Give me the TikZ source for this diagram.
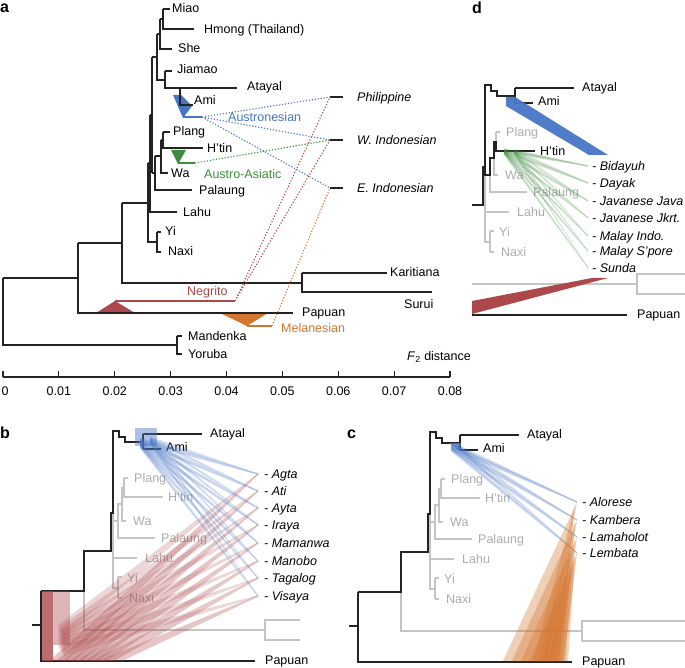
\documentclass[tikz,border=0pt]{standalone}
\usepackage{fontspec}
\setmainfont{Liberation Sans}
\definecolor{lineC}{RGB}{35,35,35}
\definecolor{grayC}{RGB}{196,196,196}
\definecolor{grayT}{RGB}{172,172,172}
\definecolor{blueC}{RGB}{72,118,196}
\definecolor{greenC}{RGB}{62,140,62}
\definecolor{redC}{RGB}{172,72,74}
\definecolor{orangeC}{RGB}{212,118,48}
\newcommand\labfont{\fontsize{12.5}{14}\selectfont}
\tikzset{
  tl/.style={draw=lineC, line width=1.1pt},
  gl/.style={draw=grayC, line width=1.1pt},
  lab/.style={anchor=west, inner sep=0pt, text height=8.9pt, text depth=0pt, font=\labfont},
  glab/.style={lab, text=grayT},
  ilab/.style={lab, font=\labfont\itshape},
  dotl/.style={line width=1.1pt, dash pattern=on 1.2pt off 1.8pt},
  plab/.style={anchor=base west, inner sep=0pt, font=\fontsize{16}{17}\selectfont\bfseries},
  ticklab/.style={anchor=center, inner sep=0pt, text height=8.9pt, text depth=0pt, font=\labfont},
}
% pruned tree: #1 H'tin path style, #2 H'tin label style, #3 stub end x, #4 name prefix
\newcommand\ptree[4]{%
  \draw[gl] (121,245)--(121,284)--(302,284);
  \draw[gl] (#3,274)--(302,274)--(302,294)--(#3,294);
  \draw[gl] (150,167)--(150,242)--(155,242) (155,231)--(155,252) (155,231)--(159,231) (155,252)--(159,252);
  \draw[gl] (150,212)--(174,212);
  \draw[gl] (150,175)--(155,175) (155,158)--(155,192)--(192,192) (155,158)--(159,158)
            (159,142)--(159,175)--(163,175) (159,142)--(161,142) (161,132)--(161,151) (161,132)--(165,132);
  \draw[#1] (150,167)--(150,175)--(155,175)--(155,158)--(159,158)--(159,142)--(161,142)--(161,151)--(200,151);
  \draw[tl] (69,279)--(78,279) (78,245)--(78,315)--(292,315);
  \draw[tl] (78,245)--(121,245)--(121,205)--(148,205)--(148,167)--(150,167)--(150,85)--(156,85)--(156,91)--(162,91)--(162,96)--(180,96)
            (180,88)--(180,103) (180,88)--(239,88) (180,103)--(198,103);
  \node[lab] (#4atayal) at (247,87) {Atayal};
  \node[lab] (#4ami) at (203,101) {Ami};
  \node[glab] (#4plang) at (171,132) {Plang};
  \node[#2] (#4htin) at (205,151) {H’tin};
  \node[glab] (#4wa) at (170,175) {Wa};
  \node[glab] (#4palaung) at (198,192) {Palaung};
  \node[glab] (#4lahu) at (182,212) {Lahu};
  \node[glab] (#4yi) at (164,232) {Yi};
  \node[glab] (#4naxi) at (166,252) {Naxi};
  \node[lab] (#4papuan) at (302,314) {Papuan};
}
\begin{document}
\begin{tikzpicture}[x=1pt,y=-1pt]
\useasboundingbox (0,0) rectangle (685,668);
\fill[white] (0,0) rectangle (685,668);

% ================= panel a =================
\node[plab] (pa) at (0,13) {a};
\fill[blueC] (173,95) -- (181,95) -- (192,106) -- (183,118) -- cycle;
\fill[greenC] (171,150) -- (186,150) -- (178,164) -- cycle;
\fill[redC] (96,313) -- (115,301) -- (135,313) -- cycle;
\fill[orangeC] (220,313) -- (268,313) -- (247,326) -- cycle;

\draw[tl] (163,9)--(170,9) (163,9)--(163,29)--(194,29);
\draw[tl] (160,19)--(163,19) (160,19)--(160,49)--(172,49);
\draw[tl] (165,71)--(172,71) (165,71)--(165,88)--(237,88) (180,88)--(180,105)--(193,105);
\draw[tl] (157,34)--(160,34) (157,34)--(157,80)--(165,80);
\draw[tl] (152,57)--(157,57);
\draw[tl] (163,132)--(170,132) (163,132)--(163,148)--(203,148);
\draw[tl] (161,140)--(163,140) (161,140)--(161,173)--(168,173);
\draw[tl] (155,156)--(161,156) (155,156)--(155,190)--(192,190);
\draw[tl] (152,173)--(155,173) (152,57)--(152,173);
\draw[tl] (150,115)--(152,115) (150,115)--(150,212)--(177,212);
\draw[tl] (148,163)--(150,163) (148,163)--(148,242)--(157,242);
\draw[tl] (157,232)--(161,232) (157,232)--(157,252)--(161,252);
\draw[tl] (122,203)--(148,203) (122,203)--(122,283)--(302,283);
\draw[tl] (302,273)--(387,273) (302,273)--(302,292)--(432,292);
\draw[tl] (78,243)--(122,243) (78,243)--(78,313)--(293,313);
\draw[tl] (3,278)--(78,278) (3,278)--(3,345)--(177,345);
\draw[tl] (177,336)--(182,336) (177,336)--(177,354)--(182,354);

\node[lab] (miao) at (172,8) {Miao};
\node[lab] (hmong) at (204,29) {Hmong (Thailand)};
\node[lab] (she) at (178,48) {She};
\node[lab] (jiamao) at (177,69) {Jiamao};
\node[lab] (atayalA) at (247,86) {Atayal};
\node[lab] (amiA) at (194,100) {Ami};
\node[lab] (plangA) at (173,131) {Plang};
\node[lab] (htinA) at (207,148) {H’tin};
\node[lab] (waA) at (171,173) {Wa};
\node[lab] (palaungA) at (199,190) {Palaung};
\node[lab] (lahuA) at (183,212) {Lahu};
\node[lab] (yiA) at (165,231) {Yi};
\node[lab] (naxiA) at (168,251) {Naxi};
\node[lab] (karitiana) at (390,272) {Karitiana};
\node[lab] (surui) at (404,304) {Surui};
\node[lab] (papuanA) at (302,312) {Papuan};
\node[lab] (mandenka) at (188,336) {Mandenka};
\node[lab] (yoruba) at (188,354) {Yoruba};

% admixture sources
\draw[blueC, line width=1.1pt] (183,117) -- (202,117);
\draw[greenC, line width=1.1pt] (178,163) -- (195,163);
\draw[redC, line width=1.1pt] (115,301) -- (235,301);
\draw[orangeC, line width=1.1pt] (247,326) -- (272,326);

\coordinate (bsrc) at (202,117);
\coordinate (gsrc) at (195,163);
\coordinate (rsrc) at (235,301);
\coordinate (osrc) at (272,326);
\coordinate (tphil) at (330,97);
\coordinate (twin) at (330,140);
\coordinate (tein) at (330,188);
\draw[tl] (tphil)--(343,97) (twin)--(343,140) (tein)--(343,188);
\node[ilab] (phil) at (357,97) {Philippine};
\node[ilab] (windo) at (357,140) {W. Indonesian};
\node[ilab] (eindo) at (357,188) {E. Indonesian};

\draw[dotl, blueC] (bsrc) -- (tphil) (bsrc) -- (twin) (bsrc) -- (tein);
\draw[dotl, greenC] (gsrc) -- (twin);
\draw[dotl, redC] (rsrc) -- (tphil) (rsrc) -- (twin);
\draw[dotl, orangeC] (osrc) -- (tein);

\node[lab, text=blueC] (austro) at (228,117) {Austronesian};
\node[lab, text=greenC] (aa) at (204,174) {Austro-Asiatic};
\node[lab, text=redC] (negrito) at (187,291) {Negrito};
\node[lab, text=orangeC] (melan) at (281,328) {Melanesian};

% axis
\draw[tl] (3,377) -- (450,377);
\foreach \k/\t in {0/0,1/0.01,2/0.02,3/0.03,4/0.04,5/0.05,6/0.06,7/0.07,8/0.08}{
  \draw[tl] ({3+55.875*\k},371) -- ({3+55.875*\k},377);
  \node[ticklab] (tick\k) at ({3+55.875*\k+(\k==0?2:0)},391) {\t};
}
\node[lab] (f2) at (407,356) {\textit{F}\textsubscript{2} distance};

% ================= panel b =================
\node[plab] (pb) at (0,438) {b};
\begin{scope}[shift={(-37,346)}]
  \ptree{gl}{glab}{337}{b}
\end{scope}
\foreach \t/\ty [count=\i] in {Agta/474,Ati/491,Ayta/508,Iraya/525,Mamanwa/543,Manobo/561,Tagalog/578,Visaya/596}{
  \node[ilab] (bl\i) at (264,\ty) {- \t};
}
\fill[redC, fill opacity=.8] (41.5,591) rectangle (53,661);
\fill[redC, fill opacity=.4] (53,591) rectangle (70,645);
\foreach \ty [count=\i] in {474,491,508,525,543,561,578,596}{
  \fill[redC, fill opacity=.3] ({42+7*\i},661) -- ({58+8*\i},661) -- (258,\ty+0.8) -- (258,\ty-0.8) -- cycle;
  \fill[redC, fill opacity=.22] (58,{622+3*\i}) -- (64,{632+3*\i}) -- (258,\ty+0.5) -- (258,\ty-0.5) -- cycle;
}
\fill[blueC, fill opacity=.45] (135,428) rectangle (157,446);
\foreach \ty [count=\i] in {474,491,508,525,543,561,578,596}{
  \fill[blueC, fill opacity=.3] (140,{437+0.8*\i}) -- (140,{442+0.8*\i}) -- (258,\ty+0.7) -- (258,\ty-0.7) -- cycle;
  \fill[blueC, fill opacity=.25] (150,{436+0.6*\i}) -- (150,{440+0.6*\i}) -- (258,\ty+0.5) -- (258,\ty-0.5) -- cycle;
}

% ================= panel c =================
\node[plab] (pc) at (347,438) {c};
\begin{scope}[shift={(280,347)}]
  \ptree{gl}{glab}{410}{c}
\end{scope}
\foreach \t/\ty [count=\i] in {Alorese/502,Kambera/520,Lamaholot/537,Lembata/553}{
  \node[ilab] (cl\i) at (582,\ty) {- \t};
}
\fill[blueC, fill opacity=.85] (449,443) -- (461,443) -- (459,451) -- cycle;
\foreach \ty [count=\i] in {502,520,537,553}{
  \fill[blueC, fill opacity=.32] (451,{443+0.8*\i}) -- (451,{448+0.8*\i}) -- (577,\ty+0.7) -- (577,\ty-0.7) -- cycle;
  \fill[blueC, fill opacity=.25] (458,{444+0.5*\i}) -- (458,{448+0.5*\i}) -- (577,\ty+0.5) -- (577,\ty-0.5) -- cycle;
}
\foreach \ty [count=\i] in {502,520,537,553}{
  \fill[orangeC, fill opacity=.35] ({494+9*\i},661) -- ({540+6*\i},661) -- (577,\ty) -- cycle;
  \fill[orangeC, fill opacity=.35] ({528+5*\i},661) -- ({556+3*\i},661) -- (575,\ty+3) -- cycle;
}

% ================= panel d =================
\node[plab] (pd) at (472,14) {d};
\begin{scope}
  \clip (472,60) rectangle (685,330);
  \begin{scope}[shift={(335,0)}]
    \ptree{tl}{lab}{360}{d}
  \end{scope}
\end{scope}
\foreach \t/\ty [count=\i] in {Bidayuh/166,Dayak/183,Javanese Java/201,Javanese Jkrt./218,Malay Indo./236,Malay S’pore/251,Sunda/268}{
  \node[ilab] (dl\i) at (592,\ty) {- \t};
}
\fill[redC] (472,301) -- (592,278) -- (608,278) -- (472,314) -- cycle;
\fill[blueC, fill opacity=.95] (506,97) -- (515,97) -- (608,155) -- (589,155) -- (506,106) -- cycle;
\foreach \ty [count=\i] in {166,183,201,218,236,251,268}{
  \fill[greenC, fill opacity=.3] (504,{148+0.4*\i}) -- (504,{152+0.4*\i}) -- (588,\ty+0.6) -- (588,\ty-0.6) -- cycle;
  \fill[greenC, fill opacity=.25] (514,{149+0.3*\i}) -- (514,{152+0.3*\i}) -- (588,\ty+0.4) -- (588,\ty-0.4) -- cycle;
}
\end{tikzpicture}
\end{document}
